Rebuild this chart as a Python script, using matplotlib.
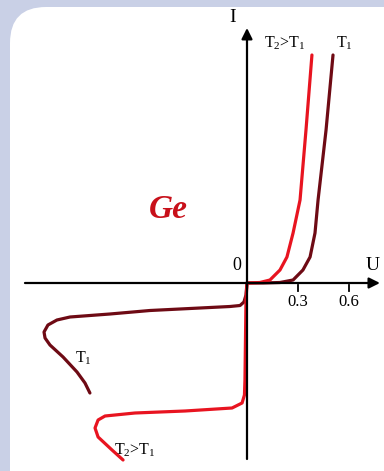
import matplotlib
matplotlib.use('Agg')
from matplotlib import pyplot as plt
from matplotlib.patches import FancyBboxPatch

plt.rcParams['font.family'] = 'Liberation Serif'
plt.rcParams['mathtext.fontset'] = 'custom'
plt.rcParams['mathtext.rm'] = 'Liberation Serif'
plt.rcParams['mathtext.it'] = 'Liberation Serif:italic'

# forward branch (U in V, I in arbitrary units)
fwd_t1_u = [0.0, 0.094, 0.194, 0.271, 0.329, 0.371, 0.400, 0.418, 0.465, 0.506]
fwd_t1_i = [0.0, 0.0, 0.05, 0.3, 1.3, 2.6, 5.0, 8.3, 15.3, 22.8]
fwd_t2_u = [0.0, 0.006, 0.076, 0.135, 0.194, 0.235, 0.271, 0.312, 0.347, 0.382]
fwd_t2_i = [0.0, 0.0, 0.05, 0.3, 1.3, 2.6, 5.0, 8.3, 15.3, 22.8]

# reverse branch with breakdown
rev_t1_u = [0.0, -0.006, -0.018, -0.041, -0.100, -0.276, -0.571, -0.806, -1.041,
            -1.118, -1.171, -1.194, -1.188, -1.159, -1.082, -1.000, -0.953, -0.924]
rev_t1_i = [0.0, -1.2, -1.9, -2.25, -2.35, -2.5, -2.75, -3.1, -3.4, -3.7, -4.2,
            -4.9, -5.5, -6.2, -7.4, -8.9, -10.0, -11.0]
rev_t2_u = [0.0, -0.006, -0.009, -0.012, -0.015, -0.029, -0.088, -0.365, -0.659,
            -0.835, -0.876, -0.894, -0.876, -0.794, -0.729]
rev_t2_i = [0.0, -1.7, -5.7, -9.7, -11.2, -12.0, -12.5, -12.8, -13.0, -13.3,
            -13.7, -14.5, -15.4, -16.7, -17.7]

tick_vals = [0.3, 0.6]
tick_labels = ['0.3', '0.6']

dark = '#6e0a14'
red = '#e81420'

fig = plt.figure(figsize=(3.84, 4.71), dpi=100)
fig.patch.set_facecolor('#c9d0e6')

# white rounded card behind everything
card = FancyBboxPatch((0.10, -0.40), 4.2, 5.04,
                      boxstyle='round,pad=0,rounding_size=0.36',
                      transform=fig.dpi_scale_trans, facecolor='white',
                      edgecolor='none', zorder=-5)
fig.patches.append(card)

ax = fig.add_axes([0, 0, 1, 1])
ax.set_xlim(-247 * 0.3 / 51, (384 - 247) * 0.3 / 51)
ax.set_ylim(-18.8, 28.3)
ax.axis('off')

# axes with arrows
ax.annotate('', xy=(0, 25.5), xytext=(0, -17.6),
            arrowprops=dict(arrowstyle='-|>', color='black', lw=1.6,
                            mutation_scale=16, shrinkA=0, shrinkB=0))
ax.annotate('', xy=(0.782, 0), xytext=(-1.306, 0),
            arrowprops=dict(arrowstyle='-|>', color='black', lw=1.6,
                            mutation_scale=16, shrinkA=0, shrinkB=0))
for v, lab in zip(tick_vals, tick_labels):
    ax.plot([v, v], [-0.2, -0.8], color='black', lw=1.3)
    ax.text(v, -1.1, lab, ha='center', va='top', fontsize=12)

style = dict(lw=2.3, solid_capstyle='round', solid_joinstyle='round')
ax.plot(fwd_t1_u, fwd_t1_i, color=dark, **style)
ax.plot(rev_t1_u, rev_t1_i, color=dark, **style)
ax.plot(fwd_t2_u, fwd_t2_i, color=red, **style)
ax.plot(rev_t2_u, rev_t2_i, color=red, **style)

ax.text(-0.082, 26.5, 'I', ha='center', va='center', fontsize=14)
ax.text(-0.06, 0.9, '0', ha='center', va='bottom', fontsize=13)
ax.text(0.741, 0.9, 'U', ha='center', va='bottom', fontsize=14)
ax.text(0.224, 24.0, r'T$_2$>T$_1$', ha='center', va='center', fontsize=11.5)
ax.text(0.576, 24.0, r'T$_1$', ha='center', va='center', fontsize=11.5)
ax.text(-0.965, -7.5, r'T$_1$', ha='center', va='center', fontsize=11.5)
ax.text(-0.659, -16.7, r'T$_2$>T$_1$', ha='center', va='center', fontsize=11.5)
ax.text(-0.465, 7.3, 'Ge', ha='center', va='center', fontsize=24,
        fontweight='bold', fontstyle='italic', color='#c8101a')

fig.savefig('out.png', dpi=100, facecolor=fig.get_facecolor())
